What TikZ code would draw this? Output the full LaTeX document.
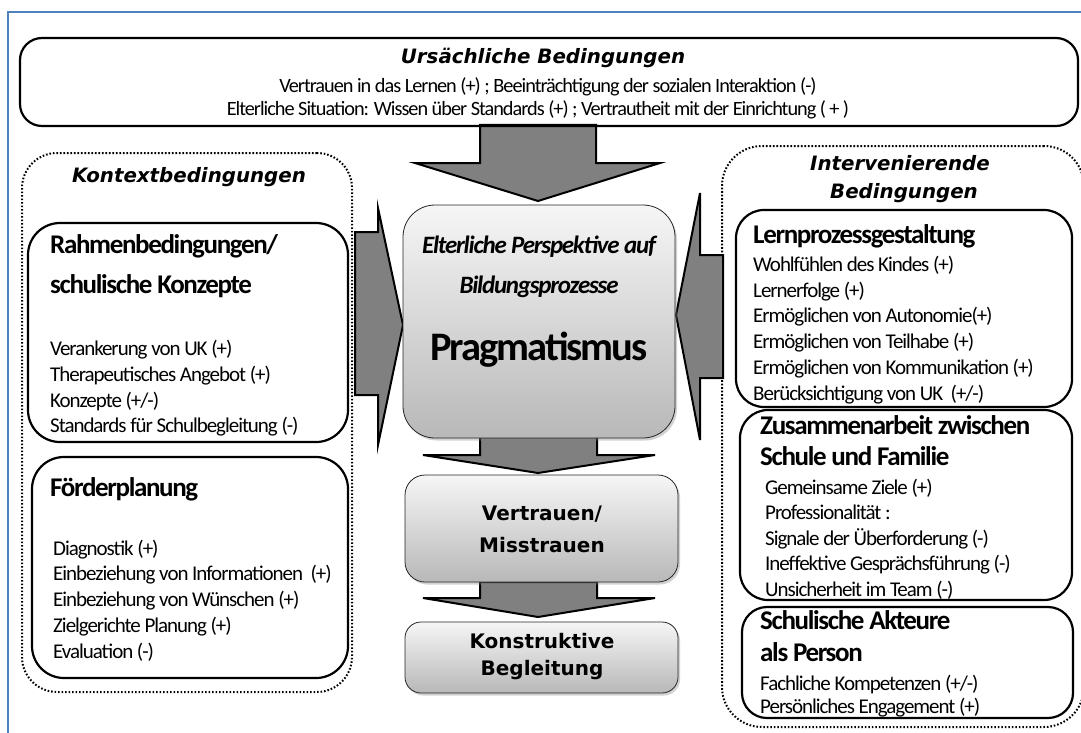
\documentclass[tikz,border=0pt]{standalone}
\usepackage{fontspec}
\usetikzlibrary{fit,shadows}
\newfontfamily\bodyfont[LetterSpace=-5]{Carlito}
\newfontfamily\headfont{DejaVu Sans}
\definecolor{frameblue}{HTML}{4F81BD}
\definecolor{arrowgray}{HTML}{808080}
\definecolor{boxtop}{HTML}{F6F6F6}
\definecolor{boxbottom}{HTML}{B8B8B8}
\tikzset{
  solidbox/.style={draw=black, line width=2.2pt, rounded corners=#1, inner sep=0pt},
  solidbox/.default=28pt,
  dotbox/.style={draw=black, line width=2pt, dash pattern=on 1.6pt off 1.9pt, rounded corners=#1, inner sep=0pt},
  dotbox/.default=35pt,
  shadebox/.style={draw=black!85, line width=0.8pt, rounded corners=#1, inner sep=0pt,
    top color=boxtop, bottom color=boxbottom,
    drop shadow={opacity=0.35, shadow xshift=2pt, shadow yshift=-2.5pt}},
  shadebox/.default=20pt,
  blockarrow/.style={draw=black, line width=2pt, fill=arrowgray, line join=miter},
  item/.style={font=\bodyfont\fontsize{21}{25}\selectfont, anchor=west, inner sep=0pt, text height=15pt, text depth=4.5pt},
  topline/.style={font=\bodyfont\fontsize{20.3}{24}\selectfont, inner sep=0pt, text height=15pt, text depth=4.5pt},
  sectitle/.style={font=\bodyfont\bfseries\fontsize{27}{32}\selectfont, anchor=west, inner sep=0pt, text height=19pt, text depth=6pt},
  condtitle/.style={font=\headfont\bfseries\itshape\fontsize{19.8}{24}\selectfont, inner sep=0pt, text height=14pt, text depth=4pt},
  coretitle/.style={font=\headfont\bfseries\fontsize{20}{24}\selectfont, inner sep=0pt, text height=14pt, text depth=4pt},
  coreitalic/.style={font=\bodyfont\bfseries\itshape\fontsize{25}{30}\selectfont, inner sep=0pt, text height=18pt, text depth=5pt},
}
\begin{document}
\begin{tikzpicture}[x=1pt, y=-1pt]
\clip (0,0) rectangle (1081,733);
\fill[white] (0,0) rectangle (1081,733);

% outer frame
\draw[frameblue, line width=2pt] (8,760) -- (8,12) -- (1100,12);

% dotted groups
\node[dotbox, fit={(22,153) (352,692)}] (ctx) {};
\node[dotbox=40pt, fit={(722,146) (1084,727)}] (intv) {};

% block arrows
\draw[blockarrow] (480,125) -- (596,125) -- (596,163) -- (660,163) -- (538,201)
  -- (415,163) -- (480,163) -- cycle;
\draw[blockarrow] (355,232) -- (378,232) -- (378,208) -- (403,325) -- (378,445)
  -- (378,395) -- (355,395) -- cycle;
\draw[blockarrow] (723,255) -- (700,255) -- (700,193) -- (676,315) -- (700,440)
  -- (700,378) -- (723,378) -- cycle;
\draw[blockarrow] (480,437) -- (597,437) -- (597,455) -- (655,455) -- (538,473)
  -- (423,455) -- (480,455) -- cycle;
\draw[blockarrow] (480,582) -- (597,582) -- (597,598) -- (655,598) -- (538,617)
  -- (423,598) -- (480,598) -- cycle;

% top box
\node[solidbox=22pt, fit={(20,38) (1078,126)}] (cause) {};
\node[condtitle] (causeT) at (543,59) {Ursächliche Bedingungen};
\node[topline] (cause1) at (548,87) {Vertrauen in das Lernen (+) ; Beeinträchtigung der sozialen Interaktion (-)};
\node[topline] (cause2) at (538,110) {Elterliche Situation: Wissen über Standards (+) ; Vertrautheit mit der Einrichtung (\,+\,)};

% central column
\node[shadebox=32pt, fit={(403,205) (675,438)}] (core) {};
\node[coreitalic] (coreA) at (539,247) {Elterliche Perspektive auf};
\node[coreitalic] (coreB) at (539,287) {Bildungsprozesse};
\node[font=\bodyfont\bfseries\fontsize{40.5}{48}\selectfont, inner sep=0pt] (coreC) at (539,350) {Pragmatismus};

\node[shadebox=20pt, fit={(405,475) (678,582)}] (trust) {};
\node[coretitle] (trustA) at (542,515) {Vertrauen/};
\node[coretitle] (trustB) at (542,547) {Misstrauen};

\node[shadebox=16pt, fit={(405,622) (678,693)}] (escort) {};
\node[coretitle] (escortA) at (542,643) {Konstruktive};
\node[coretitle] (escortB) at (542,670) {Begleitung};

% context conditions
\node[condtitle] (ctxT) at (189,177) {Kontextbedingungen};
\node[solidbox=32pt, fit={(28,223) (348,442)}] (frame) {};
\node[sectitle] (frameA) at (50,247) {Rahmenbedingungen/};
\node[sectitle] (frameB) at (50,287) {schulische Konzepte};
\foreach \t [count=\i from 0] in {{Verankerung von UK (+)},{Therapeutisches Angebot (+)},{Konzepte (+/-)},{Standards für Schulbegleitung (-)}}
  \node[item] (frame-\i) at (50,350.5+25.7*\i) {\t};

\node[solidbox=32pt, fit={(32,457) (348,678)}] (plan) {};
\node[sectitle] (planA) at (50,490) {Förderplanung};
\foreach \t [count=\i from 0] in {{Diagnostik (+)},{Einbeziehung von Informationen \ (+)},{Einbeziehung von Wünschen (+)},{Zielgerichte Planung (+)},{Evaluation (-)}}
  \node[item] (plan-\i) at (53,550+25.7*\i) {\t};

% intervening conditions
\node[condtitle] (intvA) at (900,165) {Intervenierende};
\node[condtitle] (intvB) at (904,193) {Bedingungen};

\node[solidbox=28pt, fit={(736,210) (1072,407)}] (learn) {};
\node[sectitle] (learnA) at (753,237) {Lernprozessgestaltung};
\foreach \t [count=\i from 0] in {{Wohlfühlen des Kindes (+)},{Lernerfolge (+)},{Ermöglichen von Autonomie(+)},{Ermöglichen von Teilhabe (+)},{Ermöglichen von Kommunikation (+)},{Berücksichtigung von UK \ (+/-)}}
  \node[item] (learn-\i) at (753,266+25.8*\i) {\t};

\node[solidbox=28pt, fit={(740,410) (1072,600)}] (coop) {};
\node[sectitle] (coopA) at (760,428) {Zusammenarbeit zwischen};
\node[sectitle] (coopB) at (760,459) {Schule und Familie};
\foreach \t [count=\i from 0] in {{Gemeinsame Ziele (+)},{Professionalität :},{Signale der Überforderung (-)},{Ineffektive Gesprächsführung (-)},{Unsicherheit im Team (-)}}
  \node[item] (coop-\i) at (765,489+25.5*\i) {\t};

\node[solidbox=25pt, fit={(742,607) (1073,718)}] (actor) {};
\node[sectitle] (actorA) at (760,623) {Schulische Akteure};
\node[sectitle] (actorB) at (760,655) {als Person};
\foreach \t [count=\i from 0] in {{Fachliche Kompetenzen (+/-)},{Persönliches Engagement (+)}}
  \node[item] (actor-\i) at (760,685+23*\i) {\t};
\end{tikzpicture}
\end{document}
